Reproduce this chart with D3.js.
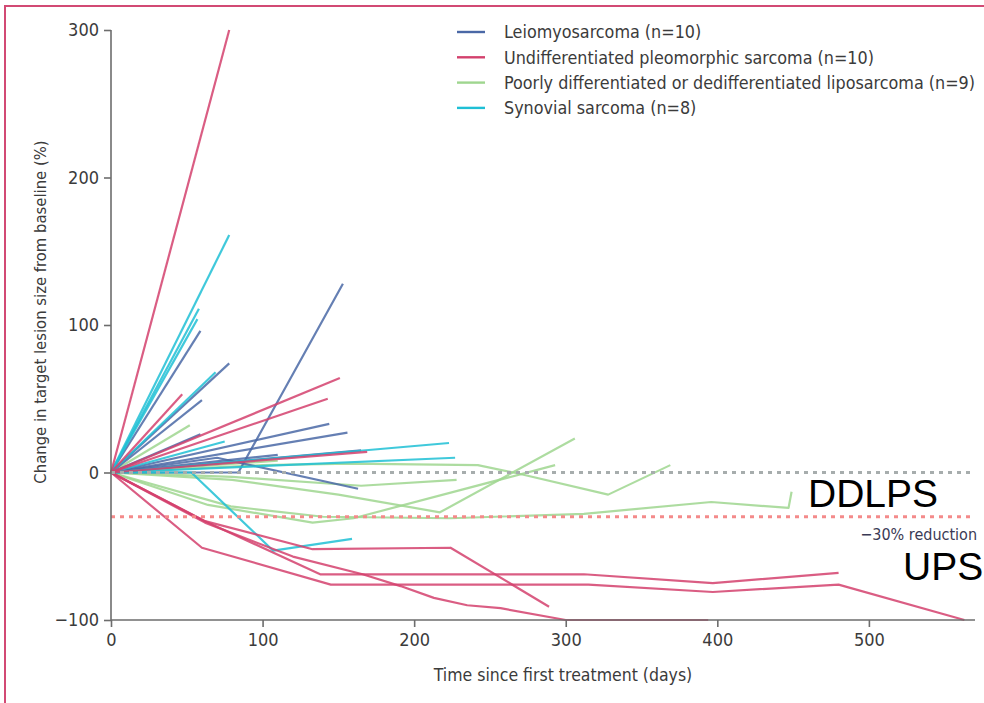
<!DOCTYPE html>
<html>
<head>
<meta charset="utf-8">
<script src="https://cdn.jsdelivr.net/npm/d3@7"></script>
<style>
  html, body { margin: 0; padding: 0; background: #fff; }
  svg { display: block; }
</style>
</head>
<body>
<svg id="chart" width="984" height="703"></svg>
<script>
// ---- data: each line is a list of [day, % change] points ----
const upsLines = [
  [[0,0],[78,300]],
  [[0,0],[151,64]],
  [[0,0],[143,50]],
  [[0,0],[47,53]],
  [[0,0],[169,14]],
  [[0,0],[60,-51],[145,-76],[315,-76],[397,-81],[480,-76],[563,-100]],
  [[0,0],[62,-33],[138,-69],[312,-69],[397,-75],[480,-68]],
  [[0,0],[62,-33],[133,-52],[224,-51],[289,-91]],
  [[0,0],[62,-34],[120,-57],[166,-69],[191,-77],[213,-85],[235,-90],[257,-92],[300,-100],[394,-100]]
];
const lmsLines = [
  [[0,0],[59,96]],
  [[0,0],[78,74]],
  [[0,0],[60,49]],
  [[0,0],[84,0],[153,128]],
  [[0,0],[144,33]],
  [[0,0],[156,27]],
  [[0,0],[59,26]],
  [[0,0],[70,10],[163,-11]],
  [[0,0],[165,15]],
  [[0,0],[110,12]]
];
const ddlpsLines = [
  [[0,0],[52,32]],
  [[0,0],[110,8]],
  [[0,0],[100,5],[158,6],[242,5],[270,-1],[328,-15],[369,5]],
  [[0,0],[80,-3],[165,-9],[228,-5]],
  [[0,0],[80,-5],[150,-15],[217,-27],[306,23]],
  [[0,0],[64,-22],[133,-34],[160,-31],[293,5]],
  [[0,0],[79,-23],[140,-30],[224,-31],[312,-28],[396,-20],[447,-24],[449,-13]]
];
const synLines = [
  [[0,0],[78,161]],
  [[0,0],[58,111]],
  [[0,0],[57,104]],
  [[0,0],[69,68]],
  [[0,0],[223,20]],
  [[0,0],[227,10]],
  [[0,0],[53,0],[107,-53],[159,-45]],
  [[0,0],[75,21]]
];
const legendLabels = [
  "Leiomyosarcoma (n=10)",
  "Undifferentiated pleomorphic sarcoma (n=10)",
  "Poorly differentiated or dedifferentiated liposarcoma (n=9)",
  "Synovial sarcoma (n=8)"
];
const legendColors = ["#4a68a6", "#d3416d", "#9fd68f", "#1fbfd5"];
const xTicks = [0, 100, 200, 300, 400, 500];
const yTicks = [-100, 0, 100, 200, 300];
const refLines = [0, -30];
const annotations = ["DDLPS", "UPS", "\u221230% reduction"];

// ---- drawing ----
const svg = d3.select("#chart");
const font = "'Liberation Sans Narrow', 'DejaVu Sans Condensed', 'Roboto Condensed', sans-serif";
const textColor = "#3b3b3b";

const x = d3.scaleLinear().domain([0, 570]).range([111, 975]);
const y = d3.scaleLinear().domain([-100, 300]).range([620, 30]);

// frame
svg.append("rect").attr("x", 5).attr("y", 6).attr("width", 1100).attr("height", 1100)
  .attr("fill", "none").attr("stroke", "#d24a74").attr("stroke-width", 2);

const line = d3.line().x(d => x(d[0])).y(d => y(d[1]));

function drawGroup(data, color) {
  svg.append("g").selectAll("path").data(data).join("path")
    .attr("d", line)
    .attr("fill", "none")
    .attr("stroke", color)
    .attr("stroke-width", 2.2)
    .attr("stroke-opacity", 0.85)
    .attr("stroke-linejoin", "round");
}
drawGroup(ddlpsLines, legendColors[2]);
drawGroup(lmsLines, legendColors[0]);
drawGroup(synLines, legendColors[3]);
drawGroup(upsLines, legendColors[1]);

// reference dashed lines
svg.append("g").selectAll("line").data(refLines).join("line")
  .attr("x1", x(0)).attr("x2", x(570))
  .attr("y1", d => y(d)).attr("y2", d => y(d))
  .attr("stroke", d => d === 0 ? "#a7adad" : "#f48a8a")
  .attr("stroke-width", 3)
  .attr("stroke-dasharray", "4,5");

// axes
const yAxis = d3.axisLeft(y).tickValues(yTicks).tickSize(7).tickPadding(5)
  .tickFormat(d => d < 0 ? "\u2212" + Math.abs(d) : d);
const gy = svg.append("g").attr("transform", `translate(${x(0)},0)`).call(yAxis);
const xAxis = d3.axisBottom(x).tickValues(xTicks).tickSize(7).tickPadding(6).tickSizeOuter(0);
const gx = svg.append("g").attr("transform", `translate(0,${y(-100)})`).call(xAxis);
[gx, gy].forEach(g => {
  g.select(".domain").attr("stroke", "#6d6d6d").attr("stroke-width", 1.6);
  g.selectAll(".tick line").attr("stroke", "#6d6d6d").attr("stroke-width", 1.6);
  g.selectAll("text").attr("font-family", font).attr("font-size", 18).attr("fill", textColor);
});
gx.select(".domain").attr("d", `M${x(0)},0H${x(570)}`);
gy.select(".domain").attr("d", `M0,${y(300)}V${y(-100)}`);

// axis titles
svg.append("text").attr("x", 563).attr("y", 681).attr("text-anchor", "middle")
  .attr("font-family", font).attr("font-size", 17.5).attr("fill", textColor)
  .text("Time since first treatment (days)");
svg.append("text").attr("transform", "translate(46,312) rotate(-90)").attr("text-anchor", "middle")
  .attr("font-family", font).attr("font-size", 16.5).attr("fill", textColor)
  .text("Change in target lesion size from baseline (%)");

// legend
const lg = svg.append("g").selectAll("g").data(legendLabels).join("g")
  .attr("transform", (d, i) => `translate(457,${32 + i * 25.3})`);
lg.append("line").attr("x1", 0).attr("x2", 28).attr("y1", 0).attr("y2", 0)
  .attr("stroke", (d, i) => legendColors[i]).attr("stroke-width", 2.4);
lg.append("text").attr("x", 47).attr("y", 0).attr("dy", "0.35em")
  .attr("font-family", font).attr("font-size", 17.8).attr("fill", textColor)
  .text(d => d);

// annotations
svg.append("text").attr("x", 808).attr("y", 507)
  .attr("font-family", "'Liberation Sans', Arial, sans-serif").attr("font-size", 39).attr("fill", "#000")
  .text(annotations[0]);
svg.append("text").attr("x", 903).attr("y", 580)
  .attr("font-family", "'Liberation Sans', Arial, sans-serif").attr("font-size", 39).attr("fill", "#000")
  .text(annotations[1]);
svg.append("text").attr("x", 977).attr("y", 540).attr("text-anchor", "end")
  .attr("font-family", font).attr("font-size", 16).attr("fill", "#3a3a55")
  .text(annotations[2]);
</script>
</body>
</html>
